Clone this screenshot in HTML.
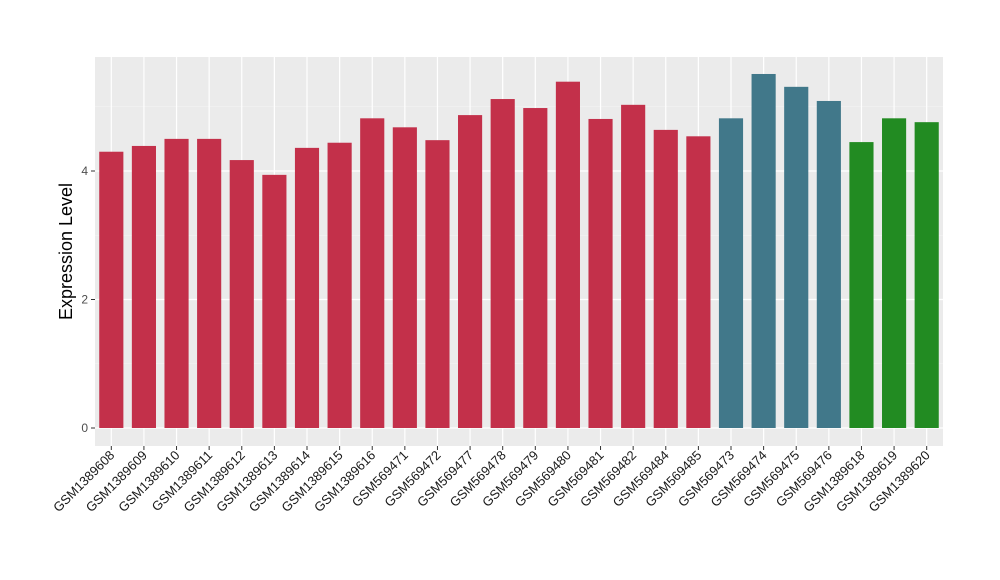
<!DOCTYPE html>
<html><head><meta charset="utf-8"><style>body{margin:0;background:#fff}svg{display:block;font-family:"Liberation Sans",sans-serif}</style></head>
<body>
<svg id="chart" width="1000" height="580"></svg>
<script>
const categories=["GSM1389608","GSM1389609","GSM1389610","GSM1389611","GSM1389612","GSM1389613","GSM1389614","GSM1389615","GSM1389616","GSM569471","GSM569472","GSM569477","GSM569478","GSM569479","GSM569480","GSM569481","GSM569482","GSM569484","GSM569485","GSM569473","GSM569474","GSM569475","GSM569476","GSM1389618","GSM1389619","GSM1389620"];
const values=[4.30,4.39,4.50,4.50,4.17,3.94,4.36,4.44,4.82,4.68,4.48,4.87,5.12,4.98,5.39,4.81,5.03,4.64,4.54,4.82,5.51,5.31,5.09,4.45,4.82,4.76];
const groups=[0,0,0,0,0,0,0,0,0,0,0,0,0,0,0,0,0,0,0,1,1,1,1,2,2,2];
const groupColors=["#C3304A","#41788A","#228B22"];
const yTicks=[0,2,4];
const NS="http://www.w3.org/2000/svg";
const svg=document.getElementById('chart');
const L=95,R=943,T=57,B=446;
const y0=428,ppu=64.25;
const y=v=>y0-v*ppu;
const step=(R-L)/categories.length;
const x=i=>L+step*(i+0.5);
const bw=step*0.74;
function mk(t,a,p){const e=document.createElementNS(NS,t);for(const k in a)e.setAttribute(k,a[k]);(p||svg).appendChild(e);return e;}
const bg=mk('rect',{x:L,y:T,width:R-L,height:B-T,fill:'#EBEBEB'});


[1,3,5].forEach(v=>{const g=mk('line',{x1:L,x2:R,y1:y(v),y2:y(v),stroke:'#F5F5F5','stroke-width':0.6});

});
yTicks.forEach(v=>{const g=mk('line',{x1:L,x2:R,y1:y(v),y2:y(v),stroke:'#fff','stroke-width':1.2});


const tk=mk('line',{x1:L-4,x2:L,y1:y(v),y2:y(v),stroke:'#333'});


const t=mk('text',{x:L-7,y:y(v)+4,'text-anchor':'end','font-size':12,fill:'#4D4D4D'});t.textContent=v;

});
categories.forEach((c,i)=>{const g=mk('line',{x1:x(i),x2:x(i),y1:T,y2:B,stroke:'#fff','stroke-width':1.2});

});
categories.forEach((c,i)=>{
const r=mk('rect',{x:x(i)-bw/2,y:y(values[i]),width:bw,height:y(0)-y(values[i]),fill:groupColors[groups[i]]});


const tk=mk('line',{x1:x(i),x2:x(i),y1:B,y2:B+4,stroke:'#333'});


const t=mk('text',{x:x(i)+4,y:B+10,'text-anchor':'end','font-size':13,fill:'#1A1A1A',transform:`rotate(-45 ${x(i)+4} ${B+10})`});t.textContent=c;

});
const yt=mk('text',{x:72,y:(T+B)/2,'text-anchor':'middle','font-size':18,fill:'#000',transform:`rotate(-90 72 ${(T+B)/2})`});yt.textContent='Expression Level';


</script>
</body></html>
